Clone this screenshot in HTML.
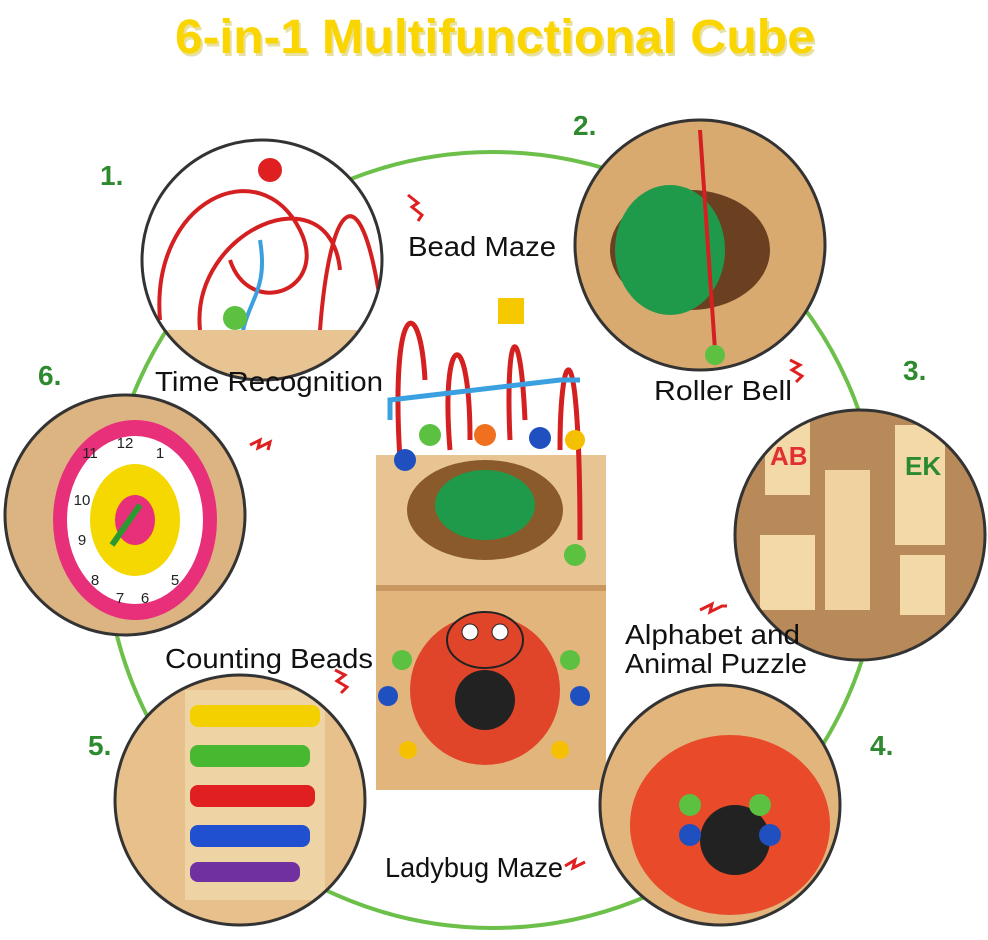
<!DOCTYPE html>
<html><head><meta charset="utf-8"><style>
html,body{margin:0;padding:0;background:#fff;width:988px;height:940px;overflow:hidden}
svg{display:block}
text{font-family:"Liberation Sans",sans-serif}
</style></head><body>
<svg width="988" height="940" viewBox="0 0 988 940" xmlns="http://www.w3.org/2000/svg">
<defs>
<clipPath id="c1"><circle cx="262" cy="260" r="120"/></clipPath>
<clipPath id="c2"><circle cx="700" cy="245" r="125"/></clipPath>
<clipPath id="c3"><circle cx="860" cy="535" r="125"/></clipPath>
<clipPath id="c4"><circle cx="720" cy="805" r="120"/></clipPath>
<clipPath id="c5"><circle cx="240" cy="800" r="125"/></clipPath>
<clipPath id="c6"><circle cx="125" cy="515" r="120"/></clipPath>
</defs>
<rect width="988" height="940" fill="#fff"/>
<text x="495" y="53" text-anchor="middle" font-size="48" font-weight="bold" fill="#e8e0a0" transform="translate(2,3)" textLength="640" lengthAdjust="spacingAndGlyphs">6-in-1 Multifunctional Cube</text>
<text x="495" y="53" text-anchor="middle" font-size="48" font-weight="bold" fill="#fbd500" textLength="640" lengthAdjust="spacingAndGlyphs">6-in-1 Multifunctional Cube</text>
<circle cx="493" cy="540" r="388" fill="none" stroke="#6cc04a" stroke-width="4"/>

<g>
<rect x="376" y="455" width="230" height="130" fill="#e8c493"/>
<ellipse cx="485" cy="510" rx="78" ry="50" fill="#8a5a2a"/>
<ellipse cx="485" cy="505" rx="50" ry="35" fill="#1f9a4a"/>
<rect x="376" y="585" width="230" height="205" fill="#e2b57c"/>
<rect x="376" y="585" width="230" height="6" fill="#c89860"/>
<circle cx="485" cy="690" r="75" fill="#e0452a"/>
<circle cx="485" cy="700" r="30" fill="#222"/>
<ellipse cx="485" cy="640" rx="38" ry="28" fill="#e0452a" stroke="#222" stroke-width="2"/>
<circle cx="470" cy="632" r="8" fill="#fff" stroke="#222"/><circle cx="500" cy="632" r="8" fill="#fff" stroke="#222"/>
<circle cx="402" cy="660" r="10" fill="#5cc040"/><circle cx="570" cy="660" r="10" fill="#5cc040"/>
<circle cx="388" cy="696" r="10" fill="#2050c0"/><circle cx="580" cy="696" r="10" fill="#2050c0"/>
<circle cx="408" cy="750" r="9" fill="#f5c000"/><circle cx="560" cy="750" r="9" fill="#f5c000"/>
<path d="M400 460 C390 300 420 290 425 380 M450 450 C440 330 470 320 470 440 M510 440 C505 330 520 310 525 420 M560 450 C560 340 580 320 580 540" fill="none" stroke="#d42020" stroke-width="5"/>
<path d="M390 420 L390 400 L560 380 L580 380" fill="none" stroke="#3aa0e0" stroke-width="5"/>
<circle cx="430" cy="435" r="11" fill="#5cc040"/><circle cx="485" cy="435" r="11" fill="#f07020"/><circle cx="540" cy="438" r="11" fill="#2050c0"/>
<circle cx="405" cy="460" r="11" fill="#2050c0"/><circle cx="575" cy="555" r="11" fill="#5cc040"/><circle cx="575" cy="440" r="10" fill="#f5c000"/>
<rect x="498" y="298" width="26" height="26" fill="#f5c800"/>
</g>

<g clip-path="url(#c1)">
<rect x="140" y="140" width="245" height="245" fill="#fff"/>
<path d="M160 320 C150 200 260 150 300 230 C330 290 250 320 230 260 M200 330 C190 230 330 170 340 270 M320 330 C330 200 360 170 380 300" fill="none" stroke="#d42020" stroke-width="4"/>
<path d="M240 360 C240 300 270 300 260 240" fill="none" stroke="#3aa0e0" stroke-width="4"/>
<rect x="160" y="330" width="230" height="60" fill="#e8c493"/>
<circle cx="270" cy="170" r="12" fill="#e02020"/><circle cx="235" cy="318" r="12" fill="#5cc040"/>
</g>
<g clip-path="url(#c2)">
<rect x="570" y="115" width="260" height="260" fill="#d9aa70"/>
<ellipse cx="690" cy="250" rx="80" ry="60" fill="#6a4020"/>
<ellipse cx="670" cy="250" rx="55" ry="65" fill="#1f9a4a"/>
<path d="M700 130 L715 350" stroke="#d42020" stroke-width="4"/>
<circle cx="715" cy="355" r="10" fill="#5cc040"/>
</g>
<g clip-path="url(#c3)">
<rect x="730" y="405" width="260" height="260" fill="#b88a5a"/>
<rect x="765" y="420" width="45" height="75" fill="#f3d8a8"/><rect x="895" y="425" width="50" height="120" fill="#f3d8a8"/>
<rect x="825" y="470" width="45" height="140" fill="#f0d2a0"/><rect x="760" y="535" width="55" height="75" fill="#f3d8a8"/>
<rect x="900" y="555" width="45" height="60" fill="#f3d8a8"/>
<text x="770" y="465" font-size="26" font-weight="bold" fill="#e03030">AB</text>
<text x="905" y="475" font-size="26" font-weight="bold" fill="#2a8a30">EK</text>
</g>
<g clip-path="url(#c4)">
<rect x="595" y="680" width="250" height="250" fill="#e2b57c"/>
<ellipse cx="730" cy="825" rx="100" ry="90" fill="#e84a2a"/>
<circle cx="735" cy="840" r="35" fill="#222"/>
<circle cx="690" cy="805" r="11" fill="#5cc040"/><circle cx="760" cy="805" r="11" fill="#5cc040"/>
<circle cx="690" cy="835" r="11" fill="#2050c0"/><circle cx="770" cy="835" r="11" fill="#2050c0"/>
</g>
<g clip-path="url(#c5)">
<rect x="110" y="670" width="260" height="260" fill="#e8c08c"/>
<rect x="185" y="690" width="140" height="210" fill="#eed3a5"/>
<rect x="190" y="705" width="130" height="22" rx="8" fill="#f5d000"/>
<rect x="190" y="745" width="120" height="22" rx="8" fill="#48b830"/>
<rect x="190" y="785" width="125" height="22" rx="8" fill="#e02020"/>
<rect x="190" y="825" width="120" height="22" rx="8" fill="#2050d0"/>
<rect x="190" y="862" width="110" height="20" rx="8" fill="#7030a0"/>
</g>
<g clip-path="url(#c6)">
<rect x="0" y="390" width="250" height="250" fill="#dcb482"/>
<ellipse cx="135" cy="520" rx="82" ry="100" fill="#e8307a"/>
<ellipse cx="135" cy="520" rx="68" ry="84" fill="#fff"/>
<ellipse cx="135" cy="520" rx="45" ry="56" fill="#f5d800"/>
<ellipse cx="135" cy="520" rx="20" ry="25" fill="#e8307a"/>
<g font-size="15" fill="#222" text-anchor="middle"><text x="125" y="448">12</text><text x="160" y="458">1</text><text x="90" y="458">11</text><text x="82" y="505">10</text><text x="82" y="545">9</text><text x="95" y="585">8</text><text x="120" y="603">7</text><text x="145" y="603">6</text><text x="175" y="585">5</text></g>
<path d="M112 545 L140 505" stroke="#2a9a30" stroke-width="6"/>
</g>
<g stroke="#333" stroke-width="3" fill="none">
<circle cx="262" cy="260" r="120"/>
<circle cx="700" cy="245" r="125"/>
<circle cx="860" cy="535" r="125"/>
<circle cx="720" cy="805" r="120"/>
<circle cx="240" cy="800" r="125"/>
<circle cx="125" cy="515" r="120"/>
</g>

<g font-size="28" font-weight="bold" fill="#2e8a2e">
<text x="100" y="185">1.</text><text x="573" y="135">2.</text><text x="903" y="380">3.</text>
<text x="870" y="755">4.</text><text x="88" y="755">5.</text><text x="38" y="385">6.</text>
</g>
<g font-size="28" fill="#111">
<text x="408" y="256" textLength="148" lengthAdjust="spacingAndGlyphs">Bead Maze</text>
<text x="155" y="391" textLength="228" lengthAdjust="spacingAndGlyphs">Time Recognition</text>
<text x="654" y="400" textLength="138" lengthAdjust="spacingAndGlyphs">Roller Bell</text>
<text x="625" y="644" textLength="175" lengthAdjust="spacingAndGlyphs">Alphabet and</text>
<text x="625" y="673" textLength="182" lengthAdjust="spacingAndGlyphs">Animal Puzzle</text>
<text x="165" y="668" textLength="208" lengthAdjust="spacingAndGlyphs">Counting Beads</text>
<text x="385" y="877" textLength="178" lengthAdjust="spacingAndGlyphs">Ladybug Maze</text>
</g>
<g fill="none" stroke="#e02020" stroke-width="3">
<path d="M408 195 l10 8 -6 4 10 8 -4 6"/><path d="M790 360 l10 5 -8 5 10 6 -6 6"/>
<path d="M250 445 l10 -5 -2 8 12 -6 -2 8"/><path d="M700 610 l12 -6 -2 8 12 -6 l5 0"/>
<path d="M335 670 l10 5 -8 6 10 6 -6 6"/><path d="M565 866 l10 -6 -2 8 12 -6"/>
</g>
</svg>
</body></html>
